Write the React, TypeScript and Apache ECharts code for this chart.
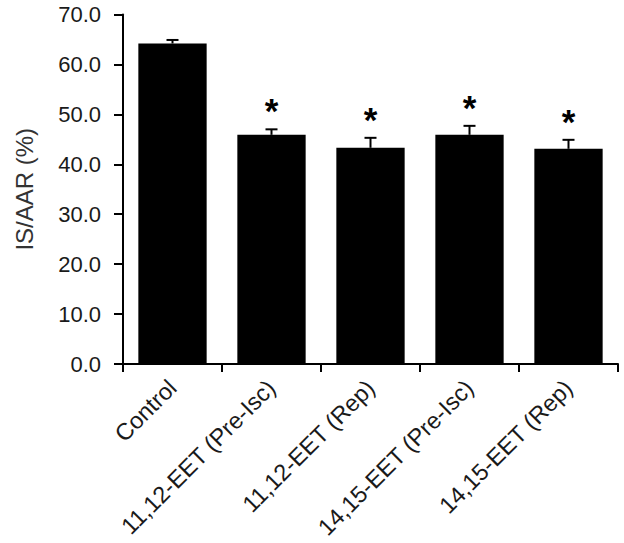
import React, { useEffect, useRef } from "react";
import * as echarts from "echarts";

const categories = [
  "Control",
  "11,12-EET (Pre-Isc)",
  "11,12-EET (Rep)",
  "14,15-EET (Pre-Isc)",
  "14,15-EET (Rep)",
];
const means = [64.2, 45.9, 43.3, 45.9, 43.1];
const errors = [0.7, 1.1, 2.0, 1.8, 1.8];
const significant = [false, true, true, true, true];
const yTicks = { min: 0, max: 70, interval: 10 };

export default function App() {
  const ref = useRef<HTMLDivElement>(null);
  useEffect(() => {
    document.body.style.margin = "0";
    const chart = echarts.init(ref.current!, null, { renderer: "svg" });
    const font = "Liberation Sans, Arial, sans-serif";
    chart.setOption({
      animation: false,
      backgroundColor: "#ffffff",
      grid: { left: 123, right: 6, top: 14.5, bottom: 179, containLabel: false },
      xAxis: {
        type: "category",
        data: categories,
        axisLine: { lineStyle: { color: "#000", width: 2 } },
        axisTick: { show: true, length: 8, inside: false, lineStyle: { color: "#000", width: 2 } },
        axisLabel: {
          rotate: 45,
          interval: 0,
          margin: 20,
          fontSize: 23.5,
          fontFamily: font,
          color: "#1a1a1a",
        },
      },
      yAxis: {
        type: "value",
        min: yTicks.min,
        max: yTicks.max,
        interval: yTicks.interval,
        name: "IS/AAR (%)",
        nameLocation: "middle",
        nameGap: 87,
        nameTextStyle: { fontSize: 24, fontFamily: font, color: "#333" },
        splitLine: { show: false },
        axisLine: { show: true, lineStyle: { color: "#000", width: 2 } },
        axisTick: { show: true, length: 9, lineStyle: { color: "#000", width: 2 } },
        axisLabel: {
          margin: 22,
          fontSize: 22,
          fontFamily: font,
          color: "#1a1a1a",
          formatter: (v: number) => v.toFixed(1),
        },
      },
      series: [
        {
          type: "bar",
          data: means,
          barWidth: "69%",
          itemStyle: { color: "#000" },
        },
        {
          type: "custom",
          data: means.map((m, i) => [i, m, m + errors[i], significant[i] ? 1 : 0]),
          z: 10,
          renderItem: (params: any, api: any) => {
            const i = api.value(0);
            const base = api.coord([i, api.value(1)]);
            const top = api.coord([i, api.value(2)]);
            const children: any[] = [
              {
                type: "line",
                shape: { x1: base[0], y1: base[1], x2: top[0], y2: top[1] },
                style: { stroke: "#000", lineWidth: 2 },
              },
              {
                type: "line",
                shape: { x1: top[0] - 6, y1: top[1], x2: top[0] + 6, y2: top[1] },
                style: { stroke: "#000", lineWidth: 2 },
              },
            ];
            if (api.value(3) === 1) {
              children.push({
                type: "text",
                x: top[0],
                y: top[1] - 1,
                style: {
                  text: "*",
                  fontSize: 35,
                  fontWeight: "bold",
                  fontFamily: font,
                  fill: "#000",
                  align: "center",
                  verticalAlign: "bottom",
                },
              });
            }
            return { type: "group", children };
          },
        },
      ],
    });
    return () => chart.dispose();
  }, []);
  return <div ref={ref} style={{ width: 624, height: 543 }} />;
}
